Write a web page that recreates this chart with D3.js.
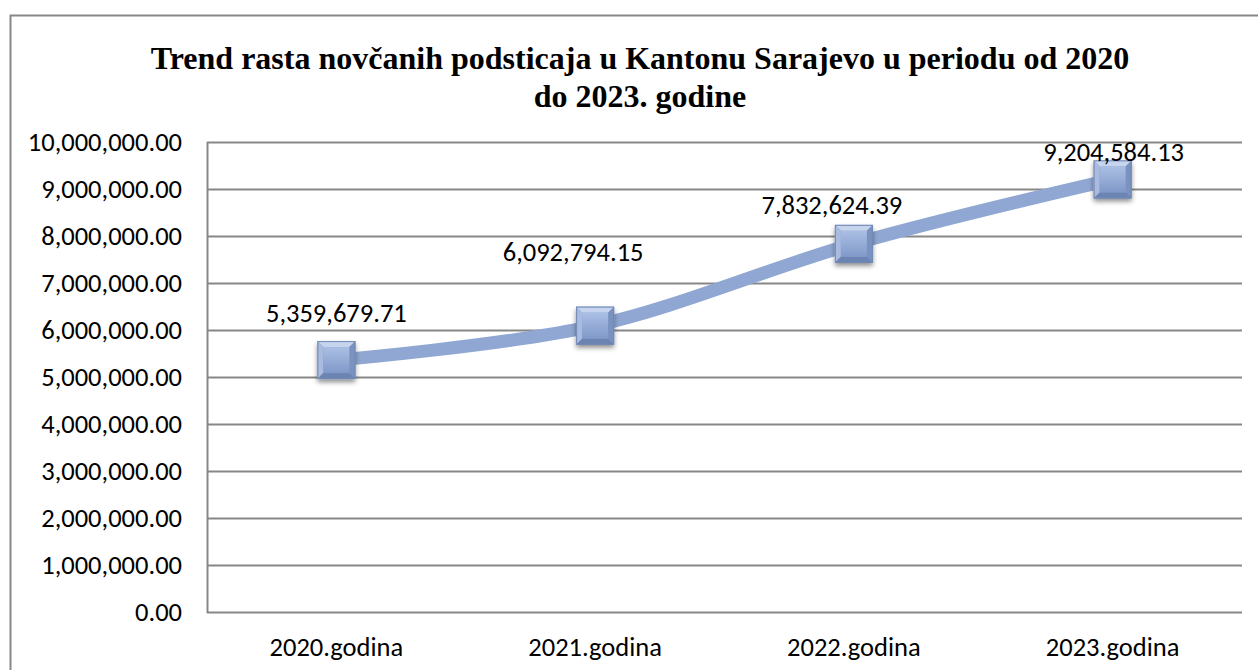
<!DOCTYPE html>
<html>
<head>
<meta charset="utf-8">
<script src="https://cdn.jsdelivr.net/npm/d3@7"></script>
<style>
  body { margin: 0; background: #fff; }
</style>
</head>
<body>
<script>
// data
var years = ["2020.godina", "2021.godina", "2022.godina", "2023.godina"];
var values = [5359679.71, 6092794.15, 7832624.39, 9204584.13];
var yTicks = [0, 1e6, 2e6, 3e6, 4e6, 5e6, 6e6, 7e6, 8e6, 9e6, 10e6];
var titleLines = ["Trend rasta novčanih podsticaja u Kantonu Sarajevo u periodu od 2020", "do 2023. godine"];

// label offsets (layout only)
var labelDx = [0, -22, -22, 1];
var labelDy = [-47, -74, -39, -28];

var W = 1258, H = 670;
var margin = {top: 142, right: 16, bottom: 58, left: 207},
    width = W - margin.left - margin.right,
    height = H - margin.top - margin.bottom;

var font = "Carlito, 'Open Sans', 'Liberation Sans', sans-serif";
var fs = "26.5px";

var svg = d3.select("body").append("svg")
    .attr("width", W)
    .attr("height", H);

// outer chart border (left + top only visible)
svg.append("rect")
    .attr("x", 10.5).attr("y", 15.5)
    .attr("width", W + 20).attr("height", H + 20)
    .attr("fill", "none")
    .attr("stroke", "#878787")
    .attr("stroke-width", 2);

// title
svg.append("text")
    .attr("x", 640)
    .attr("y", 69)
    .attr("text-anchor", "middle")
    .style("font-family", "'Liberation Serif', 'Times New Roman', serif")
    .style("font-weight", "bold")
    .style("font-size", "32px")
    .selectAll("tspan")
    .data(titleLines)
    .enter().append("tspan")
      .attr("x", 640)
      .attr("dy", function(d, i) { return i ? 38 : 0; })
      .text(function(d) { return d; });

var defs = svg.append("defs");
var grad = defs.append("linearGradient").attr("id", "face")
    .attr("x1", 0).attr("y1", 0).attr("x2", 0).attr("y2", 1);
grad.append("stop").attr("offset", "0%").attr("stop-color", "#abbfe4");
grad.append("stop").attr("offset", "100%").attr("stop-color", "#8099c9");

var shadow = defs.append("filter").attr("id", "shadow")
    .attr("x", "-30%").attr("y", "-30%").attr("width", "160%").attr("height", "170%");
shadow.append("feDropShadow")
    .attr("dx", 0).attr("dy", 3).attr("stdDeviation", 2.5)
    .attr("flood-color", "#000").attr("flood-opacity", 0.45);

var g = svg.append("g")
    .attr("transform", "translate(" + margin.left + "," + margin.top + ")");

var x = d3.scaleBand().domain(years).range([0, width]);
var y = d3.scaleLinear().domain([0, 10e6]).range([height, 0]);

// gridlines
g.append("g")
    .selectAll("line")
    .data(yTicks)
    .enter().append("line")
      .attr("x1", 0).attr("x2", width)
      .attr("y1", function(d) { return Math.round(y(d)) + 0.5; })
      .attr("y2", function(d) { return Math.round(y(d)) + 0.5; })
      .attr("stroke", "#878787")
      .attr("stroke-width", 2);

// y axis
var yAxis = g.append("g")
    .call(d3.axisLeft(y).tickValues(yTicks).tickSize(0).tickPadding(25)
      .tickFormat(d3.format(",.2f")));
yAxis.select(".domain").remove();
yAxis.selectAll("text")
    .attr("fill", "#000")
    .style("font-size", fs)
    .style("font-family", font);

// left axis line
g.append("line")
    .attr("x1", 0.5).attr("x2", 0.5)
    .attr("y1", 0).attr("y2", height + 1)
    .attr("stroke", "#878787").attr("stroke-width", 2);

// x axis
var xAxis = g.append("g")
    .attr("transform", "translate(0," + height + ")")
    .call(d3.axisBottom(x).tickSize(0).tickPadding(25));
xAxis.select(".domain").remove();
xAxis.selectAll("text")
    .attr("fill", "#000")
    .style("font-size", fs)
    .style("font-family", font);

var pts = years.map(function(d, i) { return {cat: d, v: values[i], i: i}; });

// smoothed line (uniform catmull-rom, like excel)
var line = d3.line()
    .curve(d3.curveCardinal.tension(0))
    .x(function(d) { return x(d.cat) + x.bandwidth() / 2; })
    .y(function(d) { return y(d.v); });

g.append("path")
    .datum(pts)
    .attr("d", line)
    .attr("fill", "none")
    .attr("stroke", "#8fa7d2")
    .attr("stroke-width", 13)
    .attr("stroke-linecap", "butt");

// markers (bevelled squares)
var s = 19, b = 6;
var mk = g.selectAll(".mk")
    .data(pts)
    .enter().append("g")
      .attr("class", "mk")
      .attr("transform", function(d) {
        return "translate(" + (x(d.cat) + x.bandwidth() / 2) + "," + y(d.v) + ")";
      });

mk.append("rect")
    .attr("x", -s).attr("y", -s).attr("width", 2 * s).attr("height", 2 * s)
    .attr("fill", "#7d95c2")
    .attr("filter", "url(#shadow)");

var bevels = [
  {p: [[-s, -s], [s, -s], [s - b, -s + b], [-s + b, -s + b]], c: "#c6d4ee"},
  {p: [[-s, -s], [-s + b, -s + b], [-s + b, s - b], [-s, s]], c: "#a9bce0"},
  {p: [[s, -s], [s, s], [s - b, s - b], [s - b, -s + b]], c: "#7a92bf"},
  {p: [[-s, s], [s, s], [s - b, s - b], [-s + b, s - b]], c: "#6c84b2"}
];
bevels.forEach(function(bv) {
  mk.append("polygon")
    .attr("points", bv.p.map(function(q) { return q.join(","); }).join(" "))
    .attr("fill", bv.c);
});
mk.append("rect")
    .attr("x", -s + b).attr("y", -s + b)
    .attr("width", 2 * (s - b)).attr("height", 2 * (s - b))
    .attr("fill", "url(#face)");
mk.append("rect")
    .attr("x", -s + 0.5).attr("y", -s + 0.5).attr("width", 2 * s - 1).attr("height", 2 * s - 1)
    .attr("fill", "none").attr("stroke", "#7189b6").attr("stroke-width", 1);

// data labels
g.selectAll(".lbl")
    .data(pts)
    .enter().append("text")
      .attr("class", "lbl")
      .attr("x", function(d) { return x(d.cat) + x.bandwidth() / 2 + labelDx[d.i]; })
      .attr("y", function(d) { return y(d.v) + labelDy[d.i]; })
      .attr("dy", "0.35em")
      .attr("text-anchor", "middle")
      .style("font-family", font)
      .style("font-size", fs)
      .text(function(d) { return d3.format(",.2f")(d.v); });
</script>
</body>
</html>
